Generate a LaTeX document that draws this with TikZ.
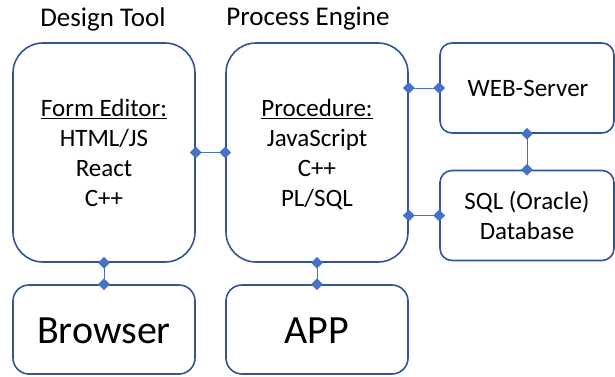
\documentclass[tikz,border=0pt]{standalone}
\usepackage{fontspec}
\setmainfont{Carlito}
\usetikzlibrary{shapes.geometric,calc}
\definecolor{boxblue}{HTML}{2F5597}
\definecolor{linkblue}{HTML}{4472C4}
\begin{document}
\begin{tikzpicture}[x=1pt,y=-1pt,
  bigbox/.style={draw=boxblue,line width=1.6pt,rounded corners=30pt,minimum width=182pt,minimum height=219pt,inner sep=0pt},
  lowbox/.style={draw=boxblue,line width=1.6pt,rounded corners=16pt,minimum width=182pt,minimum height=89pt,inner sep=0pt},
  sidebox/.style={draw=boxblue,line width=1.6pt,rounded corners=12pt,minimum width=174pt,minimum height=90pt,inner sep=0pt},
  link/.style={draw=linkblue,line width=1pt},
  dia/.style={diamond,fill=linkblue,inner sep=0pt,minimum size=12pt},
  title/.style={font=\fontsize{27}{32}\selectfont},
  body/.style={font=\fontsize{25}{30}\selectfont,align=center},
  big/.style={font=\fontsize{40}{46}\selectfont}]
\useasboundingbox (0,0) rectangle (615,376);

% main containers
\node[bigbox] (design) at (104,152.5) {};
\node[bigbox] (engine) at (317,152.5) {};
\node[lowbox] (browser) at (104,329.5) {};
\node[lowbox] (app) at (317,329.5) {};
\node[sidebox] (web) at (527,88) {};
\node[sidebox] (sql) at (527,215.5) {};

% headings
\node[title] (tdesign) at (103,19) {Design Tool};
\node[title] (tengine) at (308,19) {Process Engine};

% contents
\node[body,anchor=north] (cdesign) at (104,96) {\underline{Form Editor:}\\HTML/JS\\React\\C++};
\node[body,anchor=north] (cengine) at (317,96) {\underline{Procedure:}\\JavaScript\\C++\\PL/SQL};
\node[big] (lbrowser) at (104,331) {Browser};
\node[big] (lapp) at (317,331) {APP};
\node[body] (lweb) at (528,88) {WEB-Server};
\node[body] (lsql) at (527,215) {SQL (Oracle)\\Database};

% connectors
\coordinate (ew) at (engine.east |- web.west);
\coordinate (es) at (engine.east |- sql.west);
\draw[link] (design.east) -- (engine.west);
\draw[link] (design.south) -- (browser.north);
\draw[link] (engine.south) -- (app.north);
\draw[link] (ew) -- (web.west);
\draw[link] (es) -- (sql.west);
\draw[link] (web.south) -- (sql.north);

% connector ends
\node[dia] (d1) at (design.east) {};
\node[dia] (d2) at (engine.west) {};
\node[dia] (d3) at (design.south) {};
\node[dia] (d4) at (browser.north) {};
\node[dia] (d5) at (engine.south) {};
\node[dia] (d6) at (app.north) {};
\node[dia] (d7) at (ew) {};
\node[dia] (d8) at (web.west) {};
\node[dia] (d9) at (es) {};
\node[dia] (d10) at (sql.west) {};
\node[dia] (d11) at (web.south) {};
\node[dia] (d12) at (sql.north) {};
\end{tikzpicture}
\end{document}
